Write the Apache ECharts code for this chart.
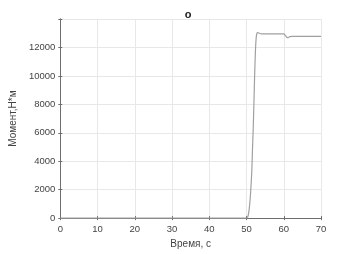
<!DOCTYPE html>
<html>
<head>
<meta charset="utf-8">
<script src="https://cdn.jsdelivr.net/npm/echarts@6/dist/echarts.min.js"></script>
<style>html,body{margin:0;padding:0;background:#fff}#c{width:354px;height:254px}</style>
</head>
<body>
<div id="c"></div>
<script>
const titleText = "о";
const xName = "Время, с";
const yName = "Момент,Н*м";
const timeValues = [0, 50, 50.3, 50.6, 50.9, 51.1, 51.4, 51.6, 51.8, 52.0, 52.2, 52.4, 52.6, 52.8, 53.0, 53.5, 54, 55, 60, 60.4, 60.8, 61.2, 61.6, 62.2, 70];
const torqueValues = [0, 0, 50, 400, 1100, 1800, 3200, 4800, 6300, 8200, 10200, 11800, 12700, 13000, 13050, 12980, 12950, 12950, 12950, 12850, 12720, 12680, 12760, 12780, 12780];

const data = timeValues.map((t, i) => [t, torqueValues[i]]);
const font = "Liberation Sans, Arial, sans-serif";
const chart = echarts.init(document.getElementById('c'), null, {renderer: 'canvas'});
const axisLine = {show: true, lineStyle: {color: '#6e6e6e', width: 1}};
chart.setOption({
  animation: false,
  backgroundColor: '#ffffff',
  title: {text: titleText, left: 183, top: 4, textAlign: 'center',
    textStyle: {fontFamily: font, fontSize: 11, fontWeight: 'bold', color: '#222'}},
  grid: {left: 46, right: 33, top: 19, bottom: 29},
  xAxis: [{
    type: 'value', min: 0, max: 70, interval: 10,
    name: xName, nameLocation: 'middle', nameGap: 19,
    nameTextStyle: {fontFamily: font, fontSize: 10, color: '#444'},
    axisLine: axisLine,
    axisTick: {show: true, inside: true, length: 2, lineStyle: {color: '#6e6e6e'}},
    axisLabel: {fontFamily: font, fontSize: 9.5, color: '#444', margin: 6},
    splitLine: {show: true, lineStyle: {color: '#e8e8e8', width: 1}}
  }, {
    type: 'value', min: 0, max: 70, interval: 10, position: 'top',
    axisLine: axisLine,
    axisTick: {show: true, inside: true, length: 2, lineStyle: {color: '#6e6e6e'}},
    axisLabel: {show: false}, splitLine: {show: false}
  }],
  yAxis: [{
    type: 'value', min: 0, max: 14000, interval: 2000,
    name: yName, nameLocation: 'middle', nameGap: 34, nameRotate: 90,
    nameTextStyle: {fontFamily: font, fontSize: 10, color: '#444'},
    axisLine: axisLine,
    axisTick: {show: true, inside: true, length: 2, lineStyle: {color: '#6e6e6e'}},
    axisLabel: {fontFamily: font, fontSize: 9.5, color: '#444', margin: 5,
      formatter: v => v === 14000 ? '' : String(v)},
    splitLine: {show: true, lineStyle: {color: '#e8e8e8', width: 1}}
  }, {
    type: 'value', min: 0, max: 14000, interval: 2000, position: 'right',
    axisLine: axisLine,
    axisTick: {show: true, inside: true, length: 2, lineStyle: {color: '#6e6e6e'}},
    axisLabel: {show: false}, splitLine: {show: false}
  }],
  series: [{
    type: 'line', data: data, xAxisIndex: 0, yAxisIndex: 0,
    showSymbol: false, smooth: 0.3,
    lineStyle: {color: '#a0a0a0', width: 1.2}
  }]
});
</script>
</body>
</html>
